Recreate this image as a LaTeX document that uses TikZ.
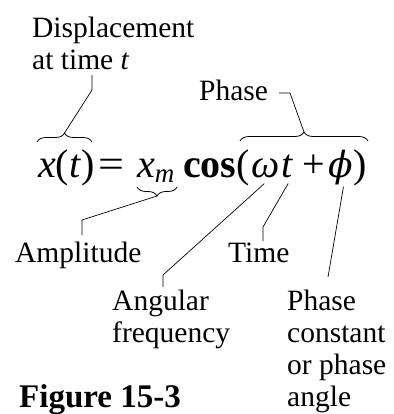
\documentclass[tikz,border=0pt]{standalone}
\usepackage{fontspec}
\setmainfont{Liberation Serif}
\newfontfamily\grkfont{DejaVu Serif}
\usetikzlibrary{decorations.pathreplacing,positioning}
\tikzset{
  lbl/.style={inner sep=0pt,align=left,font=\fontsize{29.5}{31.5}\selectfont},
  eqn/.style={inner sep=0pt,anchor=base west,font=\fontsize{40}{42}\selectfont},
  figlbl/.style={inner sep=0pt,anchor=base west,font=\fontsize{33}{35}\selectfont\bfseries},
  lead/.style={draw=black,line width=0.7pt},
  brc/.style={draw=black,line width=0.8pt,decorate,decoration={brace,amplitude=9pt}},
}
\begin{document}
\begin{tikzpicture}[x=1pt,y=-1pt]
  \useasboundingbox (0,0) rectangle (393,414);
  % equation
  \node[eqn] (xt) at (38,177) {\textit{x}(\textit{t})};
  \node[eqn] (eqs) at (98,177) {\scalebox{1.15}[1]{=}};
  \node[eqn] (xm) at (137,177) {\textit{x}\raisebox{-5pt}{\fontsize{27}{27}\selectfont\textit{m}}};
  \node[eqn] (cos) at (183,177) {\textbf{cos}};
  \node[eqn] (lp) at (236,177) {(};
  \node[eqn] (om) at (251,177) {\textit{ω}};
  \node[eqn] (tt) at (281,177) {\textit{t}};
  \node[eqn] (plus) at (302,177) {+};
  \node[eqn] (phi) at (328,177) {\grkfont\fontsize{36}{38}\selectfont\itshape ϕ};
  \node[eqn] (rp) at (353,177) {)};
  % labels
  \node[lbl,anchor=north west] (disp) at (32,17) {Displacement\\at time \textit{t}};
  \node[lbl,anchor=base west] (phase) at (199,101) {Phase};
  \node[lbl,anchor=base west] (ampl) at (15,262) {Amplitude};
  \node[lbl,anchor=base west] (time) at (228,262) {Time};
  \node[lbl,anchor=north west] (angf) at (112,290) {Angular\\frequency};
  \node[lbl,anchor=north west,font=\fontsize{29.5}{32}\selectfont] (phconst) at (287,290) {Phase\\constant\\or phase\\angle};
  \node[figlbl] (fig) at (19,407) {Figure 15-3};
  % braces
  \draw[brc] (37,142) -- (92,142);
  \draw[brc] (177,187) -- (137,187);
  \draw[brc] (240,141) -- (368,141);
  \coordinate (xtTip) at (64.5,133);
  \coordinate (xmTip) at (157,196);
  \coordinate (phTip) at (304,132);
  % leaders
  \draw[lead] (xtTip) -- (92,90) -- (92,75);
  \draw[lead] (xmTip) -- (82,220) -- (82,235);
  \draw[lead] (phTip) -- (290,93) -- ([xshift=11pt]phase.east |- 290,93);
  \draw[lead] ([xshift=-1pt,yshift=-6pt]om.south) -- (163,275) -- (163,287);
  \draw[lead] ([xshift=1pt,yshift=-6pt]tt.south) -- (263,227) -- (263,241);
  \draw[lead] ([xshift=3pt,yshift=-2pt]phi.south) -- (328,277);
\end{tikzpicture}
\end{document}
